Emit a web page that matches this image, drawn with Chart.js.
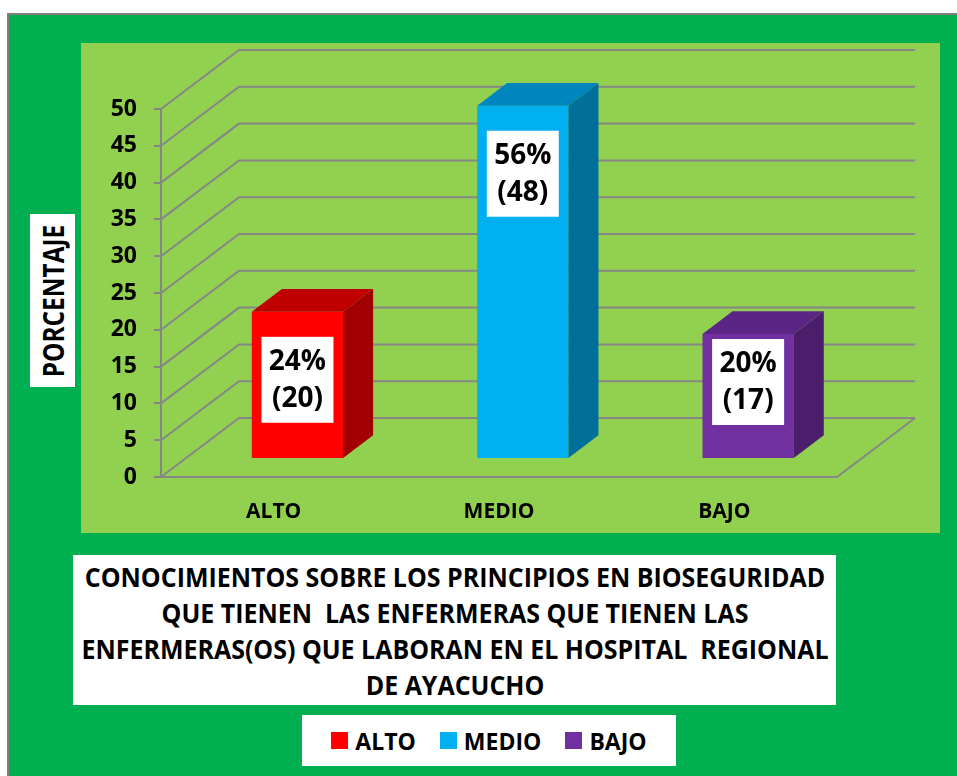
<!DOCTYPE html>
<html lang="es">
  <head>
    <meta charset="UTF-8" />
    <title>Conocimientos sobre bioseguridad</title>
    <script src="https://cdn.jsdelivr.net/npm/chart.js@4/dist/chart.umd.min.js"></script>
    <style>
      body {
        margin: 0;
        width: 957px;
        height: 776px;
        overflow: hidden;
        background: #ffffff;
        font-family: "Open Sans", sans-serif;
        font-weight: 700;
        color: #000;
      }

      .frame {
        position: absolute;
        left: 7px;
        top: 13px;
        width: 960px;
        height: 780px;
        background: #00b050;
        border-left: 2px solid #7f7f7f;
        border-top: 2px solid #7f7f7f;
      }

      .plot {
        position: absolute;
        left: 81px;
        top: 43px;
        width: 859px;
        height: 490px;
        background: #92d050;
      }

      .y-title {
        position: absolute;
        left: 30px;
        top: 214px;
        width: 45px;
        height: 173px;
        background: #fff;
      }

      .y-title span {
        position: absolute;
        left: 50%;
        top: 50%;
        font-size: 28px;
        line-height: 1;
        white-space: nowrap;
        transform: translate(-50%, -50%) rotate(-90deg) scaleX(0.87);
      }

      .title {
        position: absolute;
        left: 73px;
        top: 555px;
        width: 763px;
        height: 150px;
        background: #fff;
        font-size: 26px;
        line-height: 36px;
      }

      .title div {
        position: absolute;
        left: 50%;
        top: 4px;
        text-align: center;
        white-space: nowrap;
        transform: translateX(-50%) scaleX(0.96);
      }

      .legend {
        position: absolute;
        left: 302px;
        top: 715px;
        width: 374px;
        height: 51px;
        background: #fff;
        display: flex;
        align-items: center;
        justify-content: center;
        font-size: 23px;
      }

      .legend .item {
        display: flex;
        align-items: center;
        margin: 0 12px;
      }

      .legend .box {
        width: 17px;
        height: 17px;
        margin-right: 7px;
      }
    </style>
  </head>
  <body>
    <div class="frame"></div>
    <div class="plot"><canvas id="chart" width="859" height="490"></canvas></div>
    <div class="y-title"><span>PORCENTAJE</span></div>
    <div class="title">
      <div>
        CONOCIMIENTOS SOBRE LOS PRINCIPIOS EN BIOSEGURIDAD<br />
        QUE TIENEN&nbsp; LAS ENFERMERAS QUE TIENEN LAS<br />
        ENFERMERAS(OS) QUE LABORAN EN EL HOSPITAL&nbsp; REGIONAL<br />
        DE AYACUCHO
      </div>
    </div>
    <div class="legend" id="legend"></div>

    <script>
      // datos
      const categories = ["ALTO", "MEDIO", "BAJO"];
      const counts = [20, 48, 17];
      const percents = [24, 56, 20];
      const yMin = 0;
      const yMax = 50;
      const yStep = 5;

      const frontColors = ["#ff0000", "#00b0f0", "#7030a0"];
      const topColors = ["#c00000", "#0086bf", "#5b2585"];
      const sideColors = ["#a00000", "#006f99", "#4a1e6a"];

      // profundidad del piso (efecto 3D) y posición de las barras en ella
      const depth = { x: 78, y: -59 };
      const barFront = 0.305;
      const barBack = 0.69;

      const fake3d = {
        id: "fake3d",
        beforeDatasetsDraw(chart) {
          const { ctx, chartArea: a, scales } = chart;
          const y = scales.y;
          ctx.save();
          ctx.strokeStyle = "#868686";
          ctx.lineWidth = 2;
          ctx.beginPath();
          for (let v = yMin; v <= yMax; v += yStep) {
            const py = y.getPixelForValue(v);
            ctx.moveTo(a.left, py);
            ctx.lineTo(a.left + depth.x, py + depth.y);
            ctx.lineTo(a.right + depth.x, py + depth.y);
          }
          ctx.moveTo(a.left, a.bottom);
          ctx.lineTo(a.right, a.bottom);
          ctx.lineTo(a.right + depth.x, a.bottom + depth.y);
          ctx.stroke();
          ctx.restore();

          // las caras frontales se dibujan desplazadas hacia el fondo
          ctx.save();
          ctx.translate(depth.x * barFront, depth.y * barFront);
        },
        afterDatasetsDraw(chart) {
          const { ctx } = chart;
          ctx.restore();
          const ox = depth.x * barFront;
          const oy = depth.y * barFront;
          const dx = depth.x * (barBack - barFront);
          const dy = depth.y * (barBack - barFront);
          const meta = chart.getDatasetMeta(0);
          meta.data.forEach((bar, i) => {
            const p = bar.getProps(["x", "y", "base", "width"], true);
            const l = p.x - p.width / 2 + ox;
            const r = p.x + p.width / 2 + ox;
            const t = p.y + oy;
            const b = p.base + oy;

            ctx.fillStyle = topColors[i];
            ctx.beginPath();
            ctx.moveTo(l, t);
            ctx.lineTo(l + dx, t + dy);
            ctx.lineTo(r + dx, t + dy);
            ctx.lineTo(r, t);
            ctx.closePath();
            ctx.fill();

            ctx.fillStyle = sideColors[i];
            ctx.beginPath();
            ctx.moveTo(r, t);
            ctx.lineTo(r + dx, t + dy);
            ctx.lineTo(r + dx, b + dy);
            ctx.lineTo(r, b);
            ctx.closePath();
            ctx.fill();

            // etiqueta de datos
            const cx = p.x + ox;
            const cy = Math.min(t + 68, b - 76);
            ctx.fillStyle = "#ffffff";
            ctx.fillRect(cx - 36, cy - 43, 72, 86);
            ctx.fillStyle = "#000000";
            ctx.font = "700 28px 'Open Sans'";
            ctx.textAlign = "center";
            ctx.textBaseline = "middle";
            ctx.fillText(percents[i] + "%", cx, cy - 18);
            ctx.fillText("(" + counts[i] + ")", cx, cy + 19);
          });
        },
      };

      new Chart(document.getElementById("chart"), {
        type: "bar",
        data: {
          labels: categories,
          datasets: [
            {
              data: counts,
              backgroundColor: frontColors,
              borderWidth: 0,
              barPercentage: 0.405,
              categoryPercentage: 1,
            },
          ],
        },
        options: {
          responsive: false,
          animation: false,
          layout: {
            padding: { top: 66, right: 103, bottom: 0, left: 0 },
          },
          plugins: {
            legend: { display: false },
            tooltip: { enabled: false },
          },
          scales: {
            x: {
              grid: { display: false, drawTicks: false },
              border: { display: false },
              ticks: {
                color: "#000",
                padding: 22,
                font: { family: "Open Sans", size: 21, weight: "700" },
              },
              afterFit: (s) => {
                s.height = 56;
              },
            },
            y: {
              min: yMin,
              max: yMax,
              grid: {
                drawOnChartArea: false,
                tickLength: 7,
                color: "#868686",
                lineWidth: 2,
              },
              border: { color: "#868686", width: 2 },
              ticks: {
                stepSize: yStep,
                color: "#000",
                padding: 17,
                font: { family: "Open Sans", size: 23, weight: "700" },
              },
              afterFit: (s) => {
                s.width = 80;
              },
            },
          },
        },
        plugins: [fake3d],
      });

      // leyenda
      const legend = document.getElementById("legend");
      categories.forEach((c, i) => {
        const item = document.createElement("div");
        item.className = "item";
        item.innerHTML =
          '<span class="box" style="background:' + frontColors[i] + '"></span>' + c;
        legend.appendChild(item);
      });
    </script>
  </body>
</html>
